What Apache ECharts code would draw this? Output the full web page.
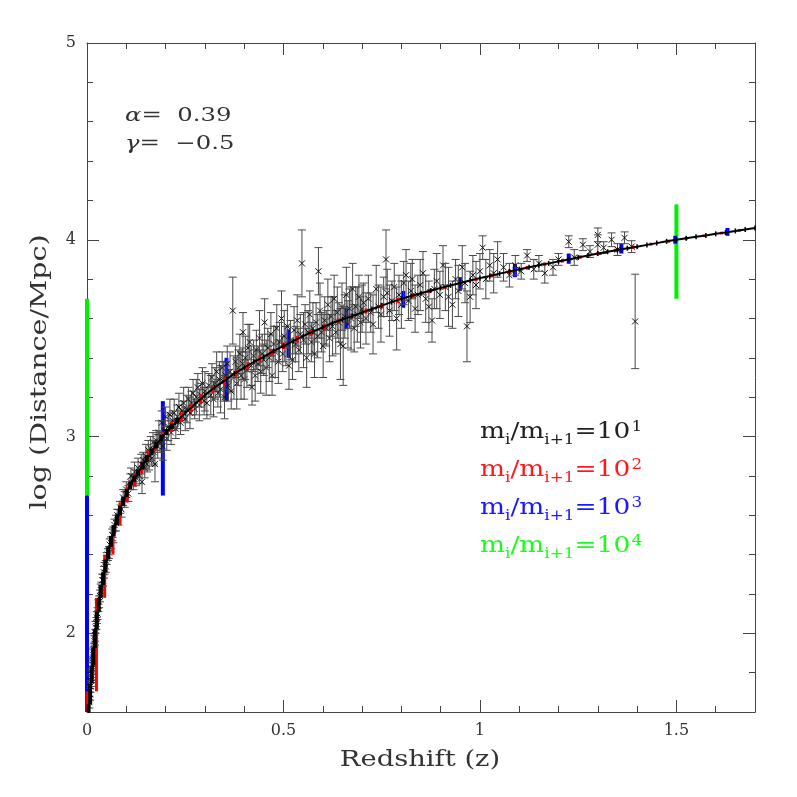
<!DOCTYPE html>
<html>
<head>
<meta charset="utf-8">
<script src="https://cdn.jsdelivr.net/npm/echarts@6/dist/echarts.min.js"></script>
<style>
html, body { margin: 0; padding: 0; background: #fff; }
#chart { width: 797px; height: 797px; }
</style>
</head>
<body>
<div id="chart"></div>
<script>
// tick positions
var xMajor = [0, 0.5, 1, 1.5];
var xMinor = [0.1, 0.2, 0.3, 0.4, 0.6, 0.7, 0.8, 0.9, 1.1, 1.2, 1.3, 1.4, 1.6];
var yMajor = [2, 3, 4, 5];
var yMinor = [1.8, 2.2, 2.4, 2.6, 2.8, 3.2, 3.4, 3.6, 3.8, 4.2, 4.4, 4.6, 4.8];

// model curve
var curveZ = [0.004, 0.005, 0.008, 0.0135, 0.018, 0.022, 0.028, 0.035, 0.041, 0.047, 0.055, 0.064, 0.072, 0.081, 0.09,
  0.102, 0.115, 0.128, 0.145, 0.16, 0.175, 0.193, 0.21, 0.225, 0.25, 0.275, 0.3, 0.325, 0.355, 0.375, 0.4, 0.425,
  0.45, 0.475, 0.5, 0.525, 0.55, 0.575, 0.6, 0.625, 0.65, 0.675, 0.7, 0.725, 0.75, 0.775, 0.8, 0.825, 0.85, 0.875,
  0.9, 0.925, 0.95, 0.975, 1.0, 1.025, 1.05, 1.075, 1.1, 1.125, 1.15, 1.175, 1.2, 1.225, 1.25, 1.275, 1.3, 1.325,
  1.35, 1.375, 1.4, 1.425, 1.45, 1.475, 1.5, 1.525, 1.55, 1.575, 1.6, 1.625, 1.65, 1.675, 1.7];
var curveD = [1.58, 1.61, 1.70, 1.82, 1.93, 2.02, 2.12, 2.21, 2.28, 2.34, 2.42, 2.49, 2.55, 2.61, 2.66,
  2.72, 2.77, 2.81, 2.865, 2.91, 2.955, 3.0, 3.04, 3.07, 3.12, 3.165, 3.21, 3.25, 3.29, 3.32, 3.35, 3.38,
  3.405, 3.435, 3.46, 3.485, 3.51, 3.533, 3.555, 3.577, 3.595, 3.612, 3.63, 3.648, 3.665, 3.683, 3.70, 3.714, 3.728, 3.742,
  3.755, 3.768, 3.78, 3.793, 3.805, 3.816, 3.828, 3.839, 3.85, 3.86, 3.87, 3.88, 3.89, 3.90, 3.91, 3.92, 3.93, 3.939,
  3.948, 3.957, 3.965, 3.974, 3.983, 3.992, 4.0, 4.008, 4.015, 4.022, 4.03, 4.037, 4.045, 4.052, 4.06];

// shells for mass ratio 10^1 (black), only the low-z ones are long enough to see
var blackZ = [0.004, 0.008, 0.012, 0.016, 0.02, 0.025, 0.03, 0.035, 0.041, 0.047, 0.054, 0.061, 0.068, 0.076,
  0.084, 0.092, 0.101, 0.11, 0.12, 0.13, 0.141, 0.152, 0.164, 0.176, 0.189, 0.202, 0.216, 0.23];
var blackEdges = [1.56, 1.64, 1.745, 1.835, 1.925, 2.02, 2.11, 2.18, 2.245, 2.31, 2.375, 2.44, 2.495, 2.55, 2.60,
  2.648, 2.693, 2.733, 2.77, 2.803, 2.833, 2.87, 2.905, 2.94, 2.975, 3.008, 3.038, 3.065, 3.095];

// shells for mass ratio 10^2 (red): bar i sits at redZ[i], spans redEdges[i]..redEdges[i+1]
var redZ = [0, 0.024, 0.045, 0.066, 0.084, 0.102, 0.121, 0.139, 0.156, 0.174,
  0.192, 0.215, 0.24, 0.265, 0.29, 0.32, 0.35, 0.38, 0.41, 0.44,
  0.47, 0.5, 0.535, 0.57, 0.605, 0.64, 0.675, 0.71, 0.75, 0.79,
  0.83, 0.87, 0.91, 0.95, 0.99, 1.03, 1.075, 1.12, 1.165, 1.21,
  1.255, 1.3, 1.345, 1.39, 1.435, 1.48, 1.525, 1.57, 1.615, 1.66];
var redEdges = [1.6, 1.705, 2.18, 2.40, 2.55, 2.665, 2.745, 2.815, 2.875, 2.93,
  2.975, 3.025, 3.075, 3.123, 3.168, 3.216, 3.262, 3.305, 3.344, 3.378,
  3.412, 3.445, 3.478, 3.511, 3.543, 3.573, 3.6, 3.625, 3.651, 3.679,
  3.705, 3.728, 3.75, 3.77, 3.79, 3.809, 3.828, 3.848, 3.867, 3.885,
  3.903, 3.921, 3.938, 3.954, 3.97, 3.985, 4.0, 4.014, 4.027, 4.041, 4.055];

// mass ratio 10^3 (blue)
var blueZ = [0, 0.193, 0.355, 0.513, 0.66, 0.805, 0.949, 1.089, 1.226, 1.36, 1.497, 1.63];
var blueEdges = [1.6, 2.70, 3.18, 3.40, 3.545, 3.655, 3.74, 3.81, 3.878, 3.93, 3.98, 4.02, 4.06];

// mass ratio 10^4 (green)
var greenZ = [0, 1.5];
var greenEdges = [2.70, 3.70, 4.18];

// measured points: [z, log D, error]
var pointsLow = [
  [0.006, 1.65, 0.03], [0.008, 1.69, 0.03], [0.009, 1.73, 0.03], [0.010, 1.76, 0.03], [0.011, 1.78, 0.03],
  [0.012, 1.79, 0.03], [0.013, 1.82, 0.03], [0.014, 1.84, 0.03], [0.015, 1.85, 0.03], [0.016, 1.89, 0.03],
  [0.017, 1.90, 0.03], [0.018, 1.92, 0.03], [0.019, 1.96, 0.03], [0.020, 1.97, 0.03], [0.021, 1.99, 0.03],
  [0.022, 2.03, 0.03], [0.024, 2.05, 0.03], [0.025, 2.08, 0.03], [0.027, 2.10, 0.03], [0.029, 2.14, 0.03],
  [0.031, 2.16, 0.03], [0.033, 2.19, 0.03], [0.035, 2.22, 0.03], [0.037, 2.23, 0.03], [0.039, 2.27, 0.03],
  [0.041, 2.27, 0.03], [0.043, 2.31, 0.03], [0.045, 2.33, 0.03], [0.048, 2.34, 0.03], [0.050, 2.38, 0.03],
  [0.053, 2.40, 0.03], [0.056, 2.41, 0.03], [0.058, 2.45, 0.03], [0.061, 2.46, 0.03], [0.064, 2.50, 0.03],
  [0.067, 2.50, 0.04], [0.070, 2.55, 0.03], [0.074, 2.56, 0.04], [0.077, 2.60, 0.03], [0.080, 2.59, 0.04],
  [0.084, 2.64, 0.03], [0.088, 2.63, 0.04], [0.092, 2.69, 0.04], [0.096, 2.68, 0.04], [0.100, 2.73, 0.04],
  [0.105, 2.71, 0.04], [0.110, 2.77, 0.04]
];
var pointsNear = [
  [0.112, 2.80, 0.04], [0.118, 2.76, 0.03], [0.121, 2.82, 0.05], [0.125, 2.79, 0.04], [0.13, 2.84, 0.05],
  [0.134, 2.80, 0.04], [0.138, 2.86, 0.05], [0.14, 2.77, 0.06], [0.143, 2.88, 0.04], [0.147, 2.84, 0.05],
  [0.15, 2.90, 0.06], [0.153, 2.86, 0.04], [0.156, 2.93, 0.05], [0.158, 2.88, 0.05], [0.162, 2.94, 0.06],
  [0.165, 2.89, 0.04], [0.168, 2.97, 0.05], [0.17, 2.92, 0.06], [0.173, 2.86, 0.09], [0.176, 2.98, 0.05],
  [0.18, 2.95, 0.06], [0.183, 3.02, 0.06], [0.186, 2.97, 0.05], [0.19, 3.07, 0.06], [0.193, 2.95, 0.07],
  [0.197, 3.03, 0.05], [0.2, 3.10, 0.05], [0.203, 2.99, 0.06], [0.207, 3.05, 0.07], [0.211, 3.11, 0.08],
  [0.214, 3.02, 0.06], [0.218, 3.08, 0.05], [0.222, 3.12, 0.07], [0.226, 3.04, 0.05], [0.23, 3.10, 0.06],
  [0.234, 3.15, 0.07], [0.238, 3.07, 0.06], [0.242, 3.13, 0.05], [0.246, 3.17, 0.08], [0.25, 3.09, 0.06],
  [0.254, 3.14, 0.07], [0.258, 3.19, 0.06], [0.262, 3.12, 0.08], [0.266, 3.17, 0.06], [0.27, 3.22, 0.07],
  [0.274, 3.14, 0.05], [0.278, 3.20, 0.09], [0.282, 3.25, 0.07], [0.286, 3.16, 0.08], [0.29, 3.21, 0.06],
  [0.294, 3.27, 0.08], [0.298, 3.18, 0.07], [0.3, 3.23, 0.1]
];
var pointsMid = [
  [0.305, 3.17, 0.08], [0.31, 3.26, 0.06], [0.315, 3.21, 0.1], [0.318, 3.30, 0.07], [0.322, 3.19, 0.09],
  [0.326, 3.27, 0.08], [0.33, 3.33, 0.1], [0.333, 3.22, 0.07], [0.337, 3.29, 0.09], [0.34, 3.24, 0.12],
  [0.344, 3.35, 0.08], [0.347, 3.28, 0.1], [0.35, 3.20, 0.11], [0.353, 3.31, 0.07], [0.357, 3.37, 0.09],
  [0.36, 3.26, 0.08], [0.364, 3.33, 0.1], [0.367, 3.23, 0.09], [0.371, 3.64, 0.17], [0.374, 3.30, 0.11],
  [0.378, 3.38, 0.08], [0.381, 3.27, 0.13], [0.385, 3.35, 0.09], [0.389, 3.42, 0.1], [0.392, 3.31, 0.12],
  [0.396, 3.37, 0.08], [0.397, 3.53, 0.1], [0.40, 3.29, 0.1], [0.403, 3.40, 0.11], [0.407, 3.34, 0.09],
  [0.41, 3.45, 0.12], [0.414, 3.48, 0.09], [0.418, 3.36, 0.1], [0.42, 3.25, 0.09], [0.424, 3.41, 0.08],
  [0.428, 3.31, 0.13], [0.431, 3.44, 0.1], [0.435, 3.37, 0.09], [0.439, 3.50, 0.14], [0.442, 3.33, 0.11],
  [0.446, 3.42, 0.1], [0.45, 3.39, 0.08], [0.452, 3.58, 0.12], [0.456, 3.35, 0.14], [0.46, 3.45, 0.1],
  [0.464, 3.40, 0.12], [0.468, 3.52, 0.11], [0.471, 3.31, 0.1], [0.475, 3.47, 0.09], [0.479, 3.43, 0.13],
  [0.483, 3.55, 0.12], [0.487, 3.38, 0.11], [0.49, 3.48, 0.1], [0.495, 3.60, 0.14], [0.498, 3.42, 0.09],
  [0.502, 3.51, 0.13], [0.506, 3.46, 0.1], [0.51, 3.56, 0.11], [0.514, 3.36, 0.12], [0.518, 3.49, 0.1],
  [0.523, 3.39, 0.1], [0.527, 3.54, 0.12], [0.531, 3.47, 0.09], [0.535, 3.59, 0.13], [0.539, 3.44, 0.11],
  [0.543, 3.52, 0.1], [0.547, 3.88, 0.17], [0.551, 3.49, 0.14], [0.555, 3.57, 0.1], [0.559, 3.40, 0.15],
  [0.563, 3.53, 0.11], [0.567, 3.62, 0.12], [0.571, 3.48, 0.1], [0.575, 3.55, 0.13], [0.579, 3.42, 0.12],
  [0.583, 3.58, 0.1], [0.587, 3.51, 0.11], [0.589, 3.84, 0.12], [0.593, 3.64, 0.14], [0.597, 3.53, 0.1],
  [0.601, 3.46, 0.16], [0.605, 3.59, 0.12], [0.609, 3.55, 0.09], [0.613, 3.67, 0.13], [0.617, 3.50, 0.12],
  [0.621, 3.61, 0.1], [0.625, 3.56, 0.15], [0.629, 3.70, 0.12], [0.633, 3.53, 0.11], [0.637, 3.63, 0.13],
  [0.641, 3.58, 0.1], [0.645, 3.47, 0.18], [0.649, 3.66, 0.12], [0.652, 3.46, 0.2], [0.656, 3.61, 0.11],
  [0.66, 3.72, 0.14], [0.664, 3.57, 0.12], [0.668, 3.65, 0.1], [0.672, 3.60, 0.16], [0.676, 3.75, 0.13],
  [0.68, 3.55, 0.12], [0.684, 3.66, 0.1], [0.688, 3.62, 0.14], [0.692, 3.71, 0.11], [0.696, 3.58, 0.13],
  [0.7, 3.65, 0.12]
];
var pointsFar = [
  [0.704, 3.68, 0.1], [0.71, 3.60, 0.13], [0.716, 3.70, 0.12], [0.722, 3.63, 0.1], [0.728, 3.57, 0.15],
  [0.736, 3.75, 0.12], [0.742, 3.66, 0.11], [0.748, 3.62, 0.14], [0.755, 3.71, 0.1], [0.761, 3.90, 0.15],
  [0.764, 3.73, 0.12], [0.77, 3.64, 0.13], [0.776, 3.69, 0.1], [0.782, 3.76, 0.12], [0.788, 3.60, 0.16],
  [0.794, 3.72, 0.1], [0.8, 3.67, 0.12], [0.806, 3.78, 0.11], [0.812, 3.82, 0.13], [0.818, 3.69, 0.1],
  [0.824, 3.74, 0.14], [0.828, 3.80, 0.1], [0.835, 3.65, 0.12], [0.842, 3.72, 0.1], [0.848, 3.77, 0.13],
  [0.855, 3.83, 0.11], [0.862, 3.70, 0.12], [0.87, 3.66, 0.13], [0.878, 3.59, 0.11], [0.884, 3.75, 0.1],
  [0.89, 3.79, 0.14], [0.898, 3.72, 0.12], [0.906, 3.87, 0.1], [0.912, 3.76, 0.12], [0.92, 3.71, 0.15],
  [0.93, 3.67, 0.12], [0.938, 3.80, 0.1], [0.945, 3.74, 0.13], [0.955, 3.86, 0.11], [0.962, 3.78, 0.1],
  [0.967, 3.56, 0.18], [0.975, 3.71, 0.13], [0.982, 3.82, 0.1], [0.99, 3.77, 0.12], [1.0, 3.84, 0.09],
  [1.007, 3.96, 0.06], [1.015, 3.80, 0.1], [1.025, 3.87, 0.08], [1.035, 3.83, 0.1], [1.045, 3.90, 0.09],
  [1.06, 3.86, 0.07]
];
var pointsTail = [
  [1.075, 3.82, 0.06], [1.09, 3.87, 0.05], [1.105, 3.84, 0.04], [1.12, 3.92, 0.03], [1.137, 3.85, 0.05],
  [1.15, 3.88, 0.04], [1.165, 3.83, 0.05], [1.186, 3.86, 0.04], [1.2, 3.90, 0.03], [1.226, 3.99, 0.03],
  [1.24, 3.91, 0.04], [1.262, 3.975, 0.03], [1.28, 3.94, 0.03], [1.3, 4.025, 0.035], [1.3, 3.975, 0.05],
  [1.315, 3.96, 0.03], [1.335, 4.0, 0.035], [1.35, 3.95, 0.03], [1.368, 4.01, 0.03], [1.386, 3.965, 0.03],
  [1.395, 3.585, 0.24]
];

var FONT = 'DejaVu Serif';
var INK = '#333';

function shells(zs, edges) {
  var out = [];
  for (var i = 0; i < zs.length; i++) out.push([zs[i], edges[i], edges[i + 1]]);
  return out;
}

function barRender(color, w) {
  return function (params, api) {
    var lo = api.coord([api.value(0), Math.max(api.value(1), 1.6)]);
    var hi = api.coord([api.value(0), api.value(2)]);
    return {
      type: 'rect',
      shape: { x: lo[0] - w / 2, y: hi[1], width: w, height: Math.max(lo[1] - hi[1], 2) },
      style: { fill: color }
    };
  };
}

function pointRender(params, api) {
  var z = api.value(0), d = api.value(1), e = api.value(2);
  var c = api.coord([z, d]);
  var t = api.coord([z, d + e]);
  var b = api.coord([z, d - e]);
  var cap = 4, m = 3;
  var bar = { stroke: '#4a4a4a', lineWidth: 1 };
  var mk = { stroke: '#111', lineWidth: 1 };
  return {
    type: 'group',
    children: [
      { type: 'line', shape: { x1: t[0], y1: t[1], x2: b[0], y2: b[1] }, style: bar },
      { type: 'line', shape: { x1: t[0] - cap, y1: t[1], x2: t[0] + cap, y2: t[1] }, style: bar },
      { type: 'line', shape: { x1: b[0] - cap, y1: b[1], x2: b[0] + cap, y2: b[1] }, style: bar },
      { type: 'line', shape: { x1: c[0] - m, y1: c[1] - m, x2: c[0] + m, y2: c[1] + m }, style: mk },
      { type: 'line', shape: { x1: c[0] - m, y1: c[1] + m, x2: c[0] + m, y2: c[1] - m }, style: mk }
    ]
  };
}

function xAxisDef(pos, ticks, len, main) {
  return {
    type: 'value', position: pos, min: 0, max: 1.7,
    axisLine: { show: main, onZero: false, lineStyle: { color: '#444', width: 1 } },
    axisTick: { show: true, inside: true, length: len, customValues: ticks, lineStyle: { color: '#444' } },
    axisLabel: {
      show: main && pos === 'bottom', customValues: ticks, margin: 11,
      fontFamily: FONT, fontSize: 16, color: INK
    },
    splitLine: { show: false }
  };
}

function yAxisDef(pos, ticks, len, main) {
  return {
    type: 'value', position: pos, min: 1.6, max: 5,
    axisLine: { show: main, onZero: false, lineStyle: { color: '#444', width: 1 } },
    axisTick: { show: true, inside: true, length: len, customValues: ticks, lineStyle: { color: '#444' } },
    axisLabel: {
      show: main && pos === 'left', customValues: ticks, margin: 11,
      fontFamily: FONT, fontSize: 16, color: INK
    },
    splitLine: { show: false }
  };
}

var legendRich = function (color) {
  return {
    b: { fontFamily: FONT, fontSize: 22, lineHeight: 34, fill: color, color: color },
    sub: { fontFamily: FONT, fontSize: 14, verticalAlign: 'bottom', padding: [0, 0, 2, 0], fill: color, color: color },
    sup: { fontFamily: FONT, fontSize: 14, verticalAlign: 'top', padding: [5, 0, 0, 1], fill: color, color: color }
  };
};
var legendText = '{b|m}{sub|i}{b|/m}{sub|i+1}{b|=10}{sup|';

function legendItem(y, color, power) {
  return {
    type: 'text', x: 480, y: y, scaleX: 1.2, silent: true,
    style: {
      text: legendText + power + '}',
      rich: legendRich(color),
      fill: color, textVerticalAlign: 'middle', font: '22px "DejaVu Serif"'
    }
  };
}

var chart = echarts.init(document.getElementById('chart'), null, { renderer: 'canvas' });

chart.setOption({
  animation: false,
  backgroundColor: '#fff',
  grid: { left: 87, right: 42, top: 43, bottom: 85, containLabel: false, outerBoundsMode: 'none' },
  xAxis: [
    xAxisDef('bottom', xMajor, 12, true),
    xAxisDef('bottom', xMinor, 6, false),
    xAxisDef('top', xMajor, 12, true),
    xAxisDef('top', xMinor, 6, false)
  ],
  yAxis: [
    yAxisDef('left', yMajor, 12, true),
    yAxisDef('left', yMinor, 6, false),
    yAxisDef('right', yMajor, 12, true),
    yAxisDef('right', yMinor, 6, false)
  ],
  graphic: [
    {
      type: 'text', x: 40, y: 372, rotation: Math.PI / 2, scaleX: 1.24, silent: true,
      style: { text: 'log (Distance/Mpc)', font: '23px "DejaVu Serif"', fill: INK, textAlign: 'center', textVerticalAlign: 'middle' }
    },
    {
      type: 'text', x: 420, y: 760, scaleX: 1.19, silent: true,
      style: { text: 'Redshift (z)', font: '23px "DejaVu Serif"', fill: INK, textAlign: 'center', textVerticalAlign: 'middle' }
    },
    {
      type: 'text', x: 125, y: 116, scaleX: 1.28, silent: true,
      style: { text: '{i|α}=  0.39', font: '19px "DejaVu Serif"', fill: INK, textVerticalAlign: 'middle',
        rich: { i: { fontFamily: FONT, fontSize: 19, fontStyle: 'italic', fill: INK } } }
    },
    {
      type: 'text', x: 125, y: 144, scaleX: 1.28, silent: true,
      style: { text: '{i|γ}=  −0.5', font: '19px "DejaVu Serif"', fill: INK, textVerticalAlign: 'middle',
        rich: { i: { fontFamily: FONT, fontSize: 19, fontStyle: 'italic', fill: INK } } }
    },
    legendItem(432, '#222', '1'),
    legendItem(470, '#ff1a1a', '2'),
    legendItem(508, '#1a1aff', '3'),
    legendItem(546, '#1aff1a', '4')
  ],
  series: [
    {
      name: '10^4', type: 'custom', clip: false, z: 2, silent: true,
      renderItem: barRender('#00f000', 4),
      data: shells(greenZ, greenEdges)
    },
    {
      name: '10^3', type: 'custom', clip: false, z: 3, silent: true,
      renderItem: barRender('#0000ff', 4),
      data: shells(blueZ, blueEdges)
    },
    {
      name: 'data', type: 'custom', clip: true, z: 4, silent: true,
      renderItem: pointRender,
      data: pointsLow.concat(pointsNear, pointsMid, pointsFar, pointsTail)
    },
    {
      name: '10^2', type: 'custom', clip: false, z: 5, silent: true,
      renderItem: barRender('#ff0000', 3),
      data: shells(redZ, redEdges)
    },
    {
      name: '10^1', type: 'line', z: 6, silent: true,
      data: curveZ.map(function (z, i) { return [z, curveD[i]]; }),
      symbol: 'rect', symbolSize: [1.5, 5], showAllSymbol: true,
      itemStyle: { color: '#000' },
      lineStyle: { color: '#000', width: 2 }
    },
    {
      name: '10^1 shells', type: 'custom', clip: false, z: 7, silent: true,
      renderItem: barRender('#000', 4),
      data: shells(blackZ, blackEdges)
    }
  ]
});
</script>
</body>
</html>
